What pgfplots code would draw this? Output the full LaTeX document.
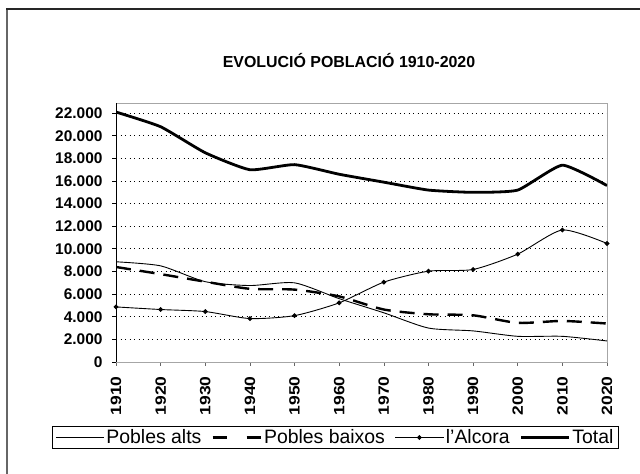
\documentclass[border=0pt]{standalone}
\usepackage{fontspec}
\setmainfont{Liberation Sans}
\usepackage{pgfplots}
\pgfplotsset{compat=1.18}
\newcommand{\yr}[1]{\scalebox{1.17}[1]{#1}}
\begin{document}
\begin{tikzpicture}
\useasboundingbox (0bp,0bp) rectangle (640bp,474bp);
\fill[white] (0bp,0bp) rectangle (640bp,474bp);
\draw[line width=2bp, black!60] (7bp,-20bp) -- (7bp,465bp);
\draw[line width=1.4bp, black!85] (6bp,465bp) -- (700bp,465bp);
\node[font=\bfseries\fontsize{16}{18}\selectfont] at (349bp,413bp) {EVOLUCIÓ POBLACIÓ 1910-2020};
\begin{axis}[
  at={(116bp,112bp)}, anchor=south west,
  width=491bp, height=259bp, scale only axis,
  xmin=1910, xmax=2020, ymin=0, ymax=22900,
  scaled x ticks=false, scaled y ticks=false,
  axis line style={black!35, line width=0.8bp},
  xtick={1910,1920,1930,1940,1950,1960,1970,1980,1990,2000,2010,2020},
  xticklabels={\yr{1910},\yr{1920},\yr{1930},\yr{1940},\yr{1950},\yr{1960},\yr{1970},\yr{1980},\yr{1990},\yr{2000},\yr{2010},\yr{2020}},
  ytick={0,2000,4000,6000,8000,10000,12000,14000,16000,18000,20000,22000},
  yticklabels={0,2.000,4.000,6.000,8.000,10.000,12.000,14.000,16.000,18.000,20.000,22.000},
  tick pos=left, tick align=outside,
  major tick length=4bp,
  x tick style={black!60, line width=0.6bp},
  y tick style={black, line width=0.8bp},
  ymajorgrids,
  grid style={black, line width=0.9bp, dash pattern=on 1.2bp off 3.3bp},
  yticklabel style={font=\bfseries\fontsize{15.5}{18}\selectfont, xshift=-6bp},
  xticklabel style={font=\bfseries\fontsize{15}{18}\selectfont, yshift=-7bp, rotate=90, anchor=east},
  legend columns=4,
  legend style={at={(0.447,-0.2915)}, anchor=center, draw=black, line width=0.8bp,
    font=\fontsize{19.5}{21}\selectfont, inner xsep=3bp, inner ysep=2.5bp,
    nodes={inner xsep=2bp, inner ysep=1bp},
    /tikz/every even column/.append style={column sep=8bp}},
  legend image code/.code={\draw[mark repeat=2,mark phase=2,#1] plot coordinates {(0bp,0bp) (24bp,0bp) (48bp,0bp)};},
]
\addplot[black, line width=0.9bp, smooth, tension=0.4] coordinates {
(1910,8860) (1920,8500) (1930,7100) (1940,6760) (1950,7000) (1960,5600)
(1970,4350) (1980,3000) (1990,2750) (2000,2270) (2010,2270) (2020,1860)};
\addlegendentry{Pobles alts}
\addlegendimage{black, line width=2.6bp, dash pattern=on 14bp off 20bp}
\addlegendentry{Pobles baixos}
\addplot[black, line width=2.4bp, dash pattern=on 15bp off 9bp, smooth, tension=0.4, forget plot] coordinates {
(1910,8400) (1920,7770) (1930,7100) (1940,6470) (1950,6400) (1960,5800)
(1970,4640) (1980,4220) (1990,4130) (2000,3460) (2010,3630) (2020,3400)};
\addplot[black, line width=0.9bp, smooth, tension=0.4, mark=*, mark size=1.9bp, mark options={solid}] coordinates {
(1910,4870) (1920,4640) (1930,4460) (1940,3840) (1950,4100) (1960,5230)
(1970,7060) (1980,8030) (1990,8180) (2000,9540) (2010,11670) (2020,10480)};
\addlegendentry{l'Alcora}
\addplot[black, line width=2.8bp, smooth, tension=0.3] coordinates {
(1910,22100) (1920,20800) (1930,18500) (1940,17000) (1950,17450) (1960,16600)
(1970,15900) (1980,15200) (1990,15000) (2000,15200) (2010,17400) (2020,15600)};
\addlegendentry{Total}
\end{axis}
\draw[black, line width=0.9bp] (116bp,112bp) -- (116bp,371bp);
\end{tikzpicture}
\end{document}
